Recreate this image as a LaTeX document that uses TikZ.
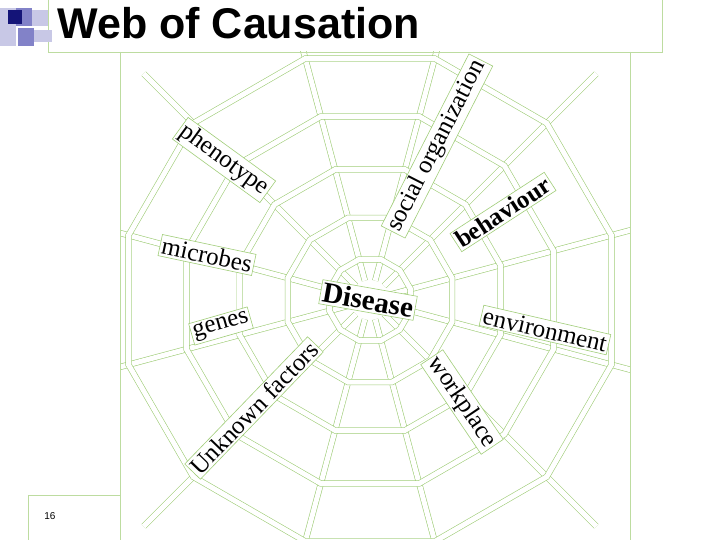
\documentclass[tikz,border=0pt]{standalone}
\usepackage{fontspec}
\setmainfont{Liberation Serif}
\newfontfamily\arialf{Liberation Sans}
\begin{document}
\begin{tikzpicture}[x=1pt,y=-1pt,
  strand/.style={draw=webgreen,double=white,double distance=5pt,line width=0.6pt},
  lbl/.style={draw=webgreen,fill=white,line width=0.6pt,inner sep=2pt,font=\fontsize{25}{28}\selectfont},
  frame/.style={draw=webgreen!70,line width=0.6pt}]
\definecolor{webgreen}{RGB}{160,205,120}
\definecolor{sqdark}{RGB}{20,20,120}
\definecolor{sqmid}{RGB}{130,130,200}
\definecolor{sqlight}{RGB}{200,200,230}
\useasboundingbox (0,0) rectangle (720,540);
\fill[white] (0,0) rectangle (720,540);
% web
\begin{scope}
\clip (120,52) rectangle (630,540);
\begin{scope}[shift={(370,300)}]
\foreach \a in {15,45,...,345} \draw[strand] (\a:20) -- (\a:320);
\foreach \r in {42,85,135,190,250}
  \draw[strand] (15:\r) \foreach \a in {45,75,...,345}{ -- (\a:\r)} -- cycle;
\end{scope}
\end{scope}
% frames
\draw[frame] (120,52) -- (120,540);
\draw[frame] (630,52) -- (630,540);
\draw[frame] (48,0) -- (48,52) -- (662,52) -- (662,0);
\draw[frame] (28,495) rectangle (120,540);
% icon
\fill[sqlight] (0,8) rectangle (16,46);
\fill[sqmid] (16,8) rectangle (32,26);
\fill[sqdark] (8,10) rectangle (22,24);
\fill[sqlight] (32,10) rectangle (48,26);
\fill[sqmid] (18,28) rectangle (34,46);
\fill[sqlight] (34,30) rectangle (52,42);
\node[font=\arialf\bfseries\fontsize{43}{46}\selectfont,anchor=west] (title) at (54,23) {Web of Causation};
\node[font=\arialf\fontsize{10}{12}\selectfont] (pg) at (50,516) {16};
% labels
\node[lbl,rotate=-36] (phen) at (224,160) {phenotype};
\node[lbl,rotate=63] (soc) at (437,146) {social organization};
\node[lbl,rotate=33,font=\bfseries\fontsize{25}{28}\selectfont] (beh) at (503,212) {behaviour};
\node[lbl,rotate=-12] (mic) at (207,255) {microbes};
\node[lbl,rotate=-10,font=\bfseries\fontsize{29}{32}\selectfont] (dis) at (368,300) {Disease};
\node[lbl,rotate=-13] (env) at (545,330) {environment};
\node[lbl,rotate=16] (gen) at (221,326) {genes};
\node[lbl,rotate=46] (unk) at (254,408) {Unknown factors};
\node[lbl,rotate=-56] (wor) at (462,402) {workplace};
\end{tikzpicture}
\end{document}
